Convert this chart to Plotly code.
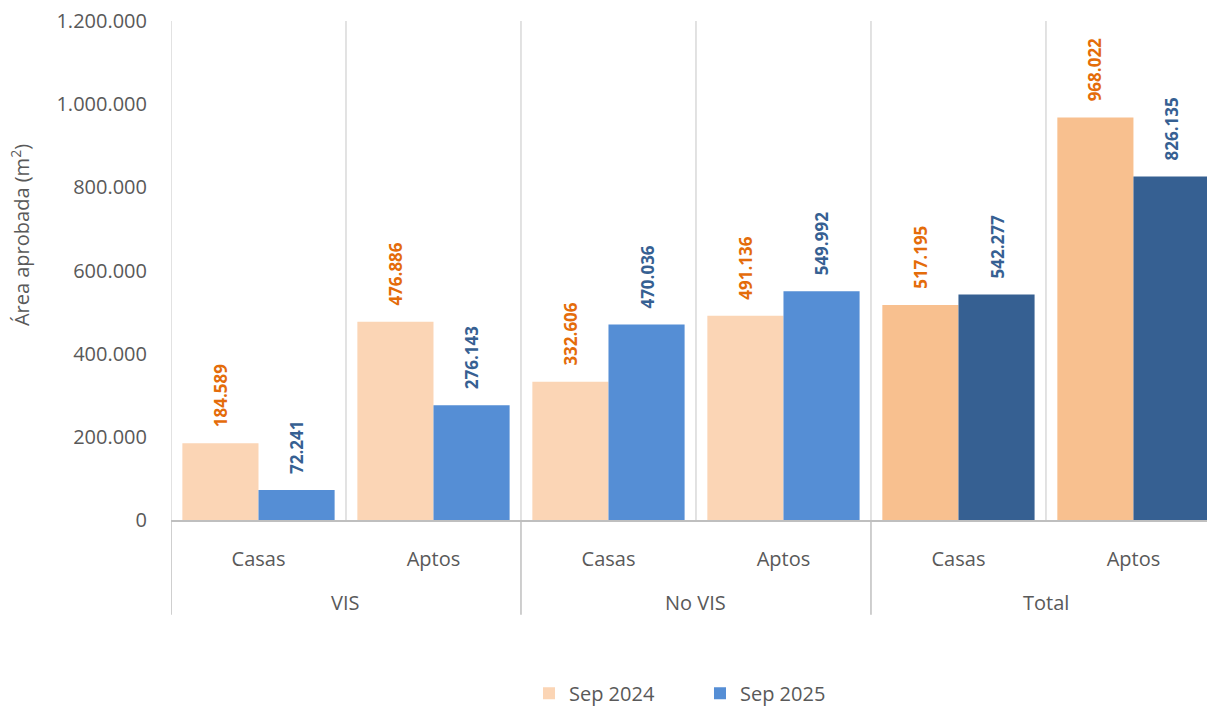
import plotly.graph_objects as go

groups = ["VIS", "No VIS", "Total"]
subcats = ["Casas", "Aptos", "Casas", "Aptos", "Casas", "Aptos"]
sep2024 = [184589, 476886, 332606, 491136, 517195, 968022]
sep2025 = [72241, 276143, 470036, 549992, 542277, 826135]
series_names = ["Sep 2024", "Sep 2025"]
colors2024 = ["#FBD5B5", "#FBD5B5", "#FBD5B5", "#FBD5B5", "#F8C08F", "#F8C08F"]
colors2025 = ["#558ED5", "#558ED5", "#558ED5", "#558ED5", "#366092", "#366092"]
label_color_2024 = "#E46C0A"
label_color_2025 = "#366092"
yticks = [0, 200000, 400000, 600000, 800000, 1000000, 1200000]


def fmt(v):
    return f"{v:,}".replace(",", ".")


FONT = "Open Sans"
GREY = "#595959"
bargap = 0.13
xs = list(range(len(subcats)))

fig = go.Figure()
fig.add_bar(x=xs, y=sep2024, name=series_names[0], marker=dict(color=colors2024, line=dict(width=0)))
fig.add_bar(x=xs, y=sep2025, name=series_names[1], marker=dict(color=colors2025, line=dict(width=0)))

w = (1 - bargap) / 2
for i, (a, b) in enumerate(zip(sep2024, sep2025)):
    for xv, yv, col in ((i - w / 2, a, label_color_2024), (i + w / 2, b, label_color_2025)):
        fig.add_annotation(x=xv, y=yv, text=f"<b>{fmt(yv)}</b>", textangle=-90,
                           showarrow=False, xanchor="center", yanchor="bottom", yshift=14,
                           font=dict(family=FONT, size=17, color=col))

# vertical gridlines at category boundaries
for k in range(len(subcats) + 1):
    fig.add_shape(type="line", xref="x", yref="y", x0=k - 0.5, x1=k - 0.5, y0=0, y1=1200000,
                  line=dict(color="#D9D9D9", width=1.5), layer="below")
# group separators below axis
for k in range(0, len(subcats) + 1, 2):
    fig.add_shape(type="line", xref="x", yref="paper", x0=k - 0.5, x1=k - 0.5, y0=0, y1=-0.19,
                  line=dict(color="#BFBFBF", width=1.5))
# group labels
for g, name in enumerate(groups):
    fig.add_annotation(x=2 * g + 0.5, y=-0.1663, xref="x", yref="paper", text=name, showarrow=False,
                       xanchor="center", yanchor="middle", font=dict(family=FONT, size=20, color=GREY))

# y axis title
fig.add_annotation(x=-0.1446, y=0.571, xref="paper", yref="paper", text="Área aprobada (m<sup>2</sup>)",
                   textangle=-90, showarrow=False, xanchor="center", yanchor="middle",
                   font=dict(family=FONT, size=20, color=GREY))

fig.update_layout(
    width=1207, height=699,
    margin=dict(l=163, r=0, t=13, b=187, autoexpand=False),
    paper_bgcolor="white", plot_bgcolor="white",
    barmode="group", bargap=bargap, bargroupgap=0,
    font=dict(family=FONT, size=20, color=GREY),
    showlegend=True,
    legend=dict(orientation="h", x=0.5067, xanchor="center", y=-0.347, yanchor="middle",
                font=dict(family=FONT, size=20, color=GREY), entrywidth=126),
    xaxis=dict(range=[-0.5, 5.466], tickvals=xs, ticktext=subcats, showgrid=False, zeroline=False,
               showline=True, linecolor="#BFBFBF", linewidth=1.5, ticks="outside", ticklen=0,
               ticklabelstandoff=20, tickfont=dict(family=FONT, size=20, color=GREY),
               automargin=False, fixedrange=True),
    yaxis=dict(range=[0, 1200000], tickvals=yticks, ticktext=[fmt(v) for v in yticks],
               showgrid=False, zeroline=False, showline=False, ticklabelstandoff=23,
               ticklabeloverflow="allow",
               tickfont=dict(family=FONT, size=20, color=GREY), automargin=False),
)

fig.write_html("out.html")
